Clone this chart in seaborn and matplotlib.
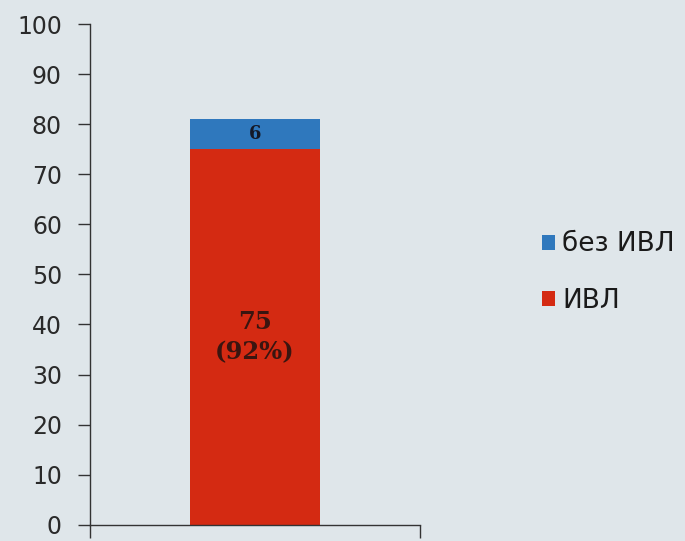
import matplotlib
matplotlib.use("Agg")
import matplotlib.pyplot as plt
import seaborn as sns
import pandas as pd
from matplotlib.patches import Patch

categories = [""]
ivl = [75]
no_ivl = [6]
series_names = ["без ИВЛ", "ИВЛ"]
ivl_label = ["75\n(92%)"]
no_ivl_label = ["6"]
yticks = [0, 10, 20, 30, 40, 50, 60, 70, 80, 90, 100]

red = "#d42a12"
blue = "#2f78bd"
bg = "#dfe6ea"

sns.set_theme(style="white")
plt.rcParams['font.family'] = ['DejaVu Sans']

df = pd.DataFrame({"cat": categories, "ivl": ivl, "no_ivl": no_ivl})
df["total"] = df["ivl"] + df["no_ivl"]

fig = plt.figure(figsize=(6.85, 5.41), dpi=100, facecolor=bg)
ax = fig.add_axes([0.131, 0.03, 0.482, 0.9256])
ax.set_facecolor(bg)

sns.barplot(data=df, x="cat", y="total", color=blue, width=0.394, ax=ax,
            saturation=1, linewidth=0)
sns.barplot(data=df, x="cat", y="ivl", color=red, width=0.394, ax=ax,
            saturation=1, linewidth=0)

for i in range(len(categories)):
    ax.text(i, ivl[i] / 2, ivl_label[i], ha="center", va="center",
            fontsize=17.5, fontweight="bold", color="#3a1510", linespacing=1.3,
            family="DejaVu Serif")
    ax.text(i, ivl[i] + no_ivl[i] / 2, no_ivl_label[i], ha="center", va="center",
            fontsize=13, fontweight="bold", color="#141826", family="DejaVu Serif")

ax.set_xlim(-0.5, 0.5)
ax.set_ylim(0, 100)
ax.set_yticks(yticks)
ax.set_yticklabels([str(t) for t in yticks], fontsize=17, color="#2a2a2a")
ax.set_xticks([-0.5, 0.5])
ax.set_xticklabels(["", ""])
ax.set_xlabel("")
ax.set_ylabel("")
ax.tick_params(axis="both", direction="out", length=9, width=1, color="#333333",
               left=True, bottom=True, pad=11)
for s in ["top", "right"]:
    ax.spines[s].set_visible(False)
for s in ["left", "bottom"]:
    ax.spines[s].set_color("#333333")
    ax.spines[s].set_linewidth(1)

handles = [Patch(facecolor=blue, edgecolor="none"), Patch(facecolor=red, edgecolor="none")]
fig.legend(handles, series_names, loc="center left", bbox_to_anchor=(0.791, 0.496),
           frameon=False, fontsize=19, handlelength=0.5, handleheight=0.5,
           handletextpad=0.27, labelspacing=1.15, borderpad=0, borderaxespad=0,
           labelcolor="#1a1a1a")

fig.savefig("out.png", dpi=100, facecolor=bg)
